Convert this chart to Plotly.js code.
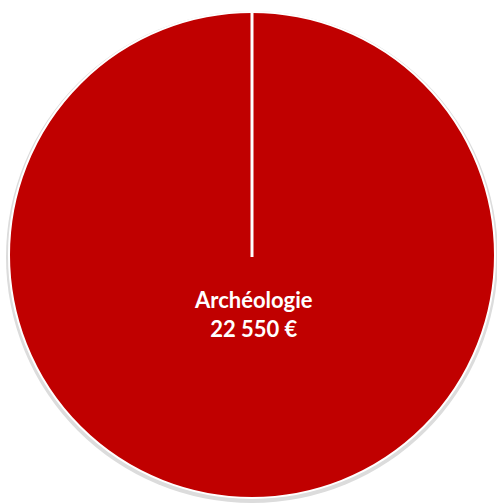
<!DOCTYPE html>
<html>
<head>
<meta charset="utf-8">
<script src="https://cdn.plot.ly/plotly-3.0.1.min.js"></script>
<style>html,body{margin:0;padding:0;background:#fff;}#chart{width:497px;height:503px;}</style>
</head>
<body>
<div id="chart"></div>
<script>
const categories = ["Archéologie"];
const values = [22550];
const valueLabels = ["22 550 €"];

const W = 497, H = 503;
const cx = 252, cy = 255, r = 243;
const px = x => x / W;
const py = y => 1 - y / H;

const data = [{
  type: 'pie',
  labels: categories,
  values: values,
  sort: false,
  direction: 'clockwise',
  rotation: 0,
  textinfo: 'none',
  hoverinfo: 'label+value',
  marker: { colors: ['#C00000'], line: { color: '#ffffff', width: 2 } },
  domain: { x: [px(cx - r), px(cx + r)], y: [py(cy + r), py(cy - r)] },
  showlegend: false
}];

const layout = {
  width: W, height: H,
  margin: { l: 0, r: 0, t: 0, b: 0 },
  paper_bgcolor: '#ffffff',
  plot_bgcolor: '#ffffff',
  showlegend: false,
  shapes: [
    { type: 'circle', xref: 'paper', yref: 'paper', layer: 'below',
      x0: px(cx - r - 3), x1: px(cx + r + 3), y0: py(cy + r + 5), y1: py(cy - r - 1),
      fillcolor: '#dcdcdc', line: { width: 0 } },
    { type: 'line', xref: 'paper', yref: 'paper', layer: 'above',
      x0: px(cx), x1: px(cx), y0: py(cy + 2), y1: py(cy - r),
      line: { color: '#ffffff', width: 3 } }
  ],
  annotations: categories.map((c, i) => ({
    xref: 'paper', yref: 'paper', x: px(253), y: py(314),
    xanchor: 'center', yanchor: 'middle', showarrow: false,
    text: '<b>' + c + '<br>' + valueLabels[i] + '</b>',
    font: { family: 'Lato, "Open Sans", sans-serif', size: 22, color: '#ffffff' }
  }))
};

Plotly.newPlot('chart', data, layout, { displayModeBar: false, staticPlot: true });
</script>
</body>
</html>
